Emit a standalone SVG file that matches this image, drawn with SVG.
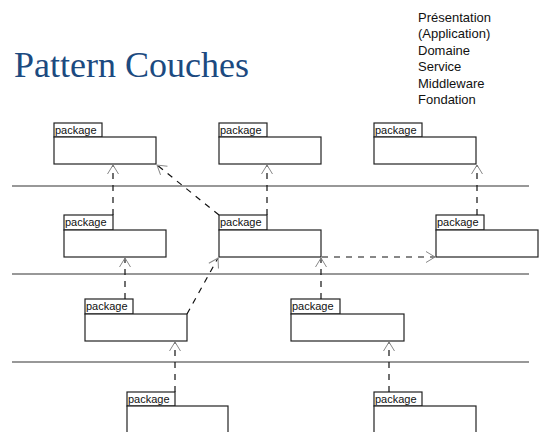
<svg xmlns="http://www.w3.org/2000/svg" width="547" height="432" viewBox="0 0 547 432">
<style>
.bg{fill:#ffffff}
.title{font-family:"Liberation Serif","Times New Roman",serif;font-size:36px;fill:#1C4A80}
.legend{font-family:"Liberation Sans",Arial,sans-serif;font-size:13px;fill:#111}
.box{fill:#fff;stroke:#222;stroke-width:1.2}
.lbl{font-family:"Liberation Sans",Arial,sans-serif;font-size:11px;fill:#111}
.sep{stroke:#333;stroke-width:1.2}
.dep{fill:none;stroke:#111;stroke-width:1.2;stroke-dasharray:6,6;marker-end:url(#open)}
</style>
<defs>
<marker id="open" markerUnits="userSpaceOnUse" viewBox="0 0 10 12" refX="10" refY="6" markerWidth="10" markerHeight="12" orient="auto" overflow="visible">
<path d="M1,0.5 L10,6 L1,11.5" fill="none" stroke="#888" stroke-width="1"/>
</marker>
</defs>
<rect class="bg" x="0" y="0" width="547" height="432"/>
<text class="title" x="14" y="77">Pattern Couches</text>
<g id="legend">
<text class="legend" x="418" y="21.5">Présentation</text>
<text class="legend" x="418" y="38">(Application)</text>
<text class="legend" x="418" y="54.5">Domaine</text>
<text class="legend" x="418" y="71">Service</text>
<text class="legend" x="418" y="87.5">Middleware</text>
<text class="legend" x="418" y="104">Fondation</text>
</g>
<g id="separators">
<line class="sep" x1="12" y1="186" x2="529" y2="186"/>
<line class="sep" x1="12" y1="274" x2="529" y2="274"/>
<line class="sep" x1="12" y1="362" x2="529" y2="362"/>
</g>
<g id="p1"><rect class="box" x="54" y="123" width="48" height="14"/><rect class="box" x="54" y="137" width="102" height="27"/><text class="lbl" x="55" y="134">package</text></g>
<g id="p2"><rect class="box" x="219" y="123" width="48" height="14"/><rect class="box" x="219" y="137" width="102" height="27"/><text class="lbl" x="220" y="134">package</text></g>
<g id="p3"><rect class="box" x="374" y="123" width="48" height="14"/><rect class="box" x="374" y="137" width="102" height="27"/><text class="lbl" x="375" y="134">package</text></g>
<g id="p4"><rect class="box" x="64" y="215" width="49" height="15"/><rect class="box" x="64" y="230" width="102" height="27"/><text class="lbl" x="65" y="226">package</text></g>
<g id="p5"><rect class="box" x="219" y="215" width="48" height="15"/><rect class="box" x="219" y="230" width="102" height="27"/><text class="lbl" x="220" y="226">package</text></g>
<g id="p6"><rect class="box" x="436" y="215" width="48" height="15"/><rect class="box" x="436" y="230" width="102" height="27"/><text class="lbl" x="437" y="226">package</text></g>
<g id="p7"><rect class="box" x="85" y="299" width="48" height="15"/><rect class="box" x="85" y="314" width="102" height="27"/><text class="lbl" x="86" y="310">package</text></g>
<g id="p8"><rect class="box" x="291" y="299" width="49" height="15"/><rect class="box" x="291" y="314" width="113" height="27"/><text class="lbl" x="292" y="310">package</text></g>
<g id="p9"><rect class="box" x="127" y="392" width="48" height="14"/><rect class="box" x="127" y="406" width="101" height="30"/><text class="lbl" x="128" y="403">package</text></g>
<g id="p10"><rect class="box" x="374" y="392" width="48" height="14"/><rect class="box" x="374" y="406" width="102" height="30"/><text class="lbl" x="375" y="403">package</text></g>
<g id="connectors">
<line class="dep" x1="113" y1="215" x2="113" y2="165"/>
<line class="dep" x1="219" y1="215" x2="157" y2="165"/>
<line class="dep" x1="267" y1="215" x2="267" y2="165"/>
<line class="dep" x1="477" y1="215" x2="477" y2="165"/>
<line class="dep" x1="322" y1="257" x2="435" y2="257"/>
<line class="dep" x1="125" y1="299" x2="125" y2="258"/>
<line class="dep" x1="187" y1="314" x2="218" y2="258"/>
<line class="dep" x1="321" y1="299" x2="321" y2="258"/>
<line class="dep" x1="175" y1="392" x2="175" y2="342"/>
<line class="dep" x1="389" y1="392" x2="389" y2="342"/>
</g>
</svg>
